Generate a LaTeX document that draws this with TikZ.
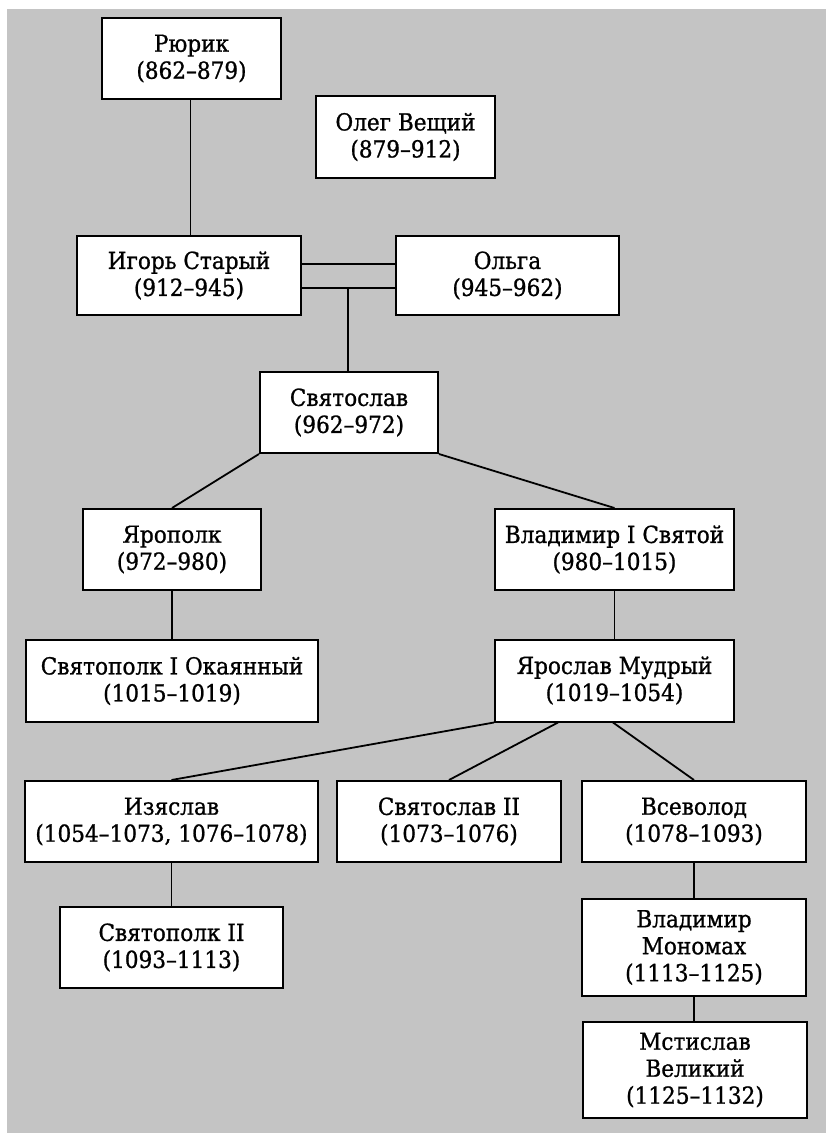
\documentclass[tikz,border=0pt]{standalone}
\usepackage{fontspec}
\setmainfont{DejaVu Serif}
\newfontfamily\boxfont[FakeBold=0.9,FakeStretch=0.92]{DejaVu Serif}
\definecolor{paper}{RGB}{196,196,196}
\begin{document}
\begin{tikzpicture}[x=1pt,y=-1pt,
  box/.style={draw=black, line width=2pt, fill=white, inner sep=0pt, align=center,
    font=\boxfont\fontsize{23.5}{27}\selectfont},
  link/.style={draw=black, line width=1.8pt}]
\fill[white] (0,0) rectangle (826,1135);
\useasboundingbox (0,0) rectangle (826,1135);
\fill[paper] (7,9) rectangle (826,1133);

\node[box, minimum width=179pt, minimum height=81pt] (rurik) at (191.5,58.5) {Рюрик\\(862–879)};
\node[box, minimum width=179pt, minimum height=82pt] (oleg) at (405.5,137) {Олег Вещий\\(879–912)};
\node[box, minimum width=224pt, minimum height=79pt] (igor) at (189,275.5) {Игорь Старый\\(912–945)};
\node[box, minimum width=223pt, minimum height=79pt] (olga) at (507.5,275.5) {Ольга\\(945–962)};
\node[box, minimum width=178pt, minimum height=81pt] (svyat) at (349,412.5) {Святослав\\(962–972)};
\node[box, minimum width=178pt, minimum height=81pt] (yaropolk) at (172,549.5) {Ярополк\\(972–980)};
\node[box, minimum width=239pt, minimum height=81pt] (vlad) at (614.5,549.5) {Владимир I Святой\\(980–1015)};
\node[box, minimum width=292pt, minimum height=82pt] (svpolk) at (172,681) {Святополк I Окаянный\\(1015–1019)};
\node[box, minimum width=239pt, minimum height=82pt] (yaroslav) at (614.5,680.5) {Ярослав Мудрый\\(1019–1054)};
\node[box, minimum width=293pt, minimum height=81pt] (izyaslav) at (171.5,821.5) {Изяслав\\(1054–1073, 1076–1078)};
\node[box, minimum width=224pt, minimum height=81pt] (svyat2) at (449,821.5) {Святослав II\\(1073–1076)};
\node[box, minimum width=224pt, minimum height=81pt] (vsevolod) at (694,821.5) {Всеволод\\(1078–1093)};
\node[box, minimum width=223pt, minimum height=81pt] (svpolk2) at (171.5,947.5) {Святополк II\\(1093–1113)};
\node[box, minimum width=224pt, minimum height=97pt] (monomakh) at (694,947.5) {Владимир\\Мономах\\(1113–1125)};
\node[box, minimum width=224pt, minimum height=96pt] (mstislav) at (695,1070) {Мстислав\\Великий\\(1125–1132)};

\draw[link] ([xshift=-1pt]rurik.south) -- ([xshift=-1pt]rurik.south |- igor.north);
\draw[link] ([yshift=11.5pt]igor.east) -- ([yshift=11.5pt]olga.west);
\draw[link] ([yshift=-12.5pt]igor.east) -- ([yshift=-12.5pt]olga.west);
\coordinate (j1) at ([xshift=-1pt,yshift=-12.5pt]svyat.north |- igor.east);
\draw[link] (j1) -- (j1 |- svyat.north);
\draw[link] (svyat.south west) -- (yaropolk.north);
\draw[link] (svyat.south east) -- (vlad.north);
\draw[link] (yaropolk.south) -- (svpolk.north);
\draw[link] (vlad.south) -- (yaroslav.north);
\draw[link] (yaroslav.south west) -- (izyaslav.north);
\draw[link] ([xshift=-56.5pt]yaroslav.south) -- (svyat2.north);
\draw[link] ([xshift=-1.5pt]yaroslav.south) -- (vsevolod.north);
\draw[link] (izyaslav.south) -- (svpolk2.north);
\draw[link] (vsevolod.south) -- (monomakh.north);
\draw[link] (monomakh.south) -- ([xshift=-1pt]mstislav.north);
\end{tikzpicture}
\end{document}
